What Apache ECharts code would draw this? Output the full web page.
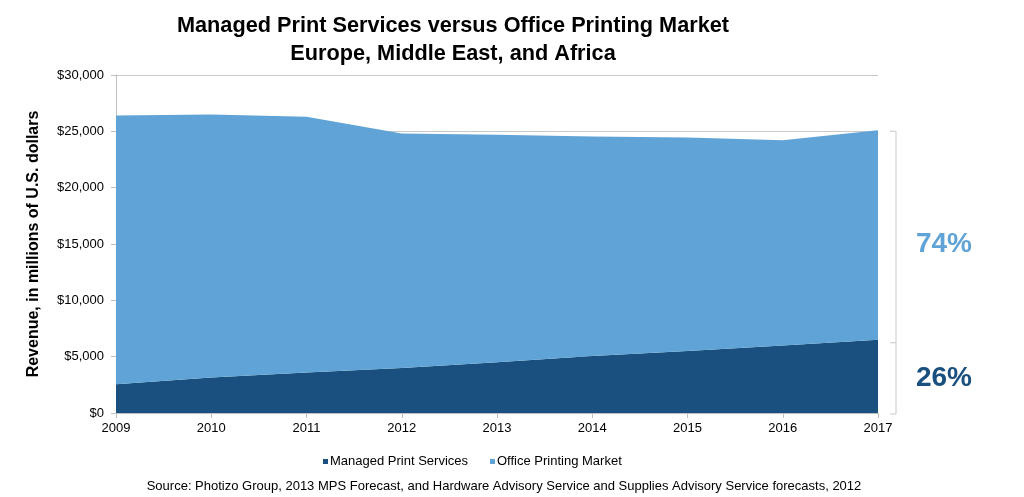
<!DOCTYPE html>
<html>
<head>
<meta charset="utf-8">
<script src="https://cdn.jsdelivr.net/npm/echarts@6/dist/echarts.min.js"></script>
<style>
html,body{margin:0;padding:0;background:#fff;}
#chart{width:1024px;height:497px;}
</style>
</head>
<body>
<div id="chart"></div>
<script>
var years = ['2009','2010','2011','2012','2013','2014','2015','2016','2017'];
var managedPrint = [2550, 3150, 3600, 4000, 4500, 5050, 5500, 6000, 6500];
var totalMarket = [26400, 26500, 26300, 24800, 24700, 24550, 24450, 24200, 25100];
var officePrinting = totalMarket.map(function (t, i) { return t - managedPrint[i]; });
var seriesNames = ['Managed Print Services', 'Office Printing Market'];
var titleLines = ['Managed Print Services versus Office Printing Market', 'Europe, Middle East, and Africa'];
var yAxisName = 'Revenue, in millions of U.S. dollars';
var sourceText = 'Source: Photizo Group, 2013 MPS Forecast, and Hardware Advisory Service and Supplies Advisory Service forecasts, 2012';

var darkBlue = '#19507f';
var lightBlue = '#60a3d7';
var font = '"Liberation Sans", Arial, Helvetica, sans-serif';

var chart = echarts.init(document.getElementById('chart'));
var option = {
  animation: false,
  backgroundColor: '#ffffff',
  title: [
    { text: titleLines[0], left: 448, top: 10, textAlign: 'center',
      textStyle: { fontFamily: font, fontSize: 21.7, fontWeight: 'bold', color: '#000' } },
    { text: titleLines[1], left: 448, top: 38, textAlign: 'center',
      textStyle: { fontFamily: font, fontSize: 21.7, fontWeight: 'bold', color: '#000' } },
    { text: sourceText, left: 499, top: 475, textAlign: 'center',
      textStyle: { fontFamily: font, fontSize: 13, fontWeight: 'normal', color: '#000' } }
  ],
  legend: {
    data: seriesNames,
    left: 318, top: 450,
    itemWidth: 5, itemHeight: 5, itemGap: 22,
    icon: 'rect',
    textStyle: { fontFamily: '"Liberation Sans Narrow", "Liberation Sans", Arial, sans-serif', fontSize: 13, color: '#000', padding: [0,0,0,-3] }
  },
  grid: { left: 116, right: 146, top: 75, bottom: 84 },
  xAxis: {
    type: 'category',
    data: years,
    boundaryGap: false,
    axisLine: { lineStyle: { color: '#bfbfbf', width: 1 } },
    axisTick: { show: true, alignWithLabel: true, length: 5, lineStyle: { color: '#bfbfbf' } },
    axisLabel: { fontFamily: font, fontSize: 13, color: '#000', margin: 9 },
    splitLine: { show: false }
  },
  yAxis: {
    type: 'value',
    min: 0, max: 30000, interval: 5000,
    name: yAxisName,
    nameLocation: 'middle',
    nameGap: 74,
    nameTextStyle: { fontFamily: font, fontSize: 16, fontWeight: 'bold', color: '#000' },
    axisLine: { show: true, lineStyle: { color: '#bfbfbf', width: 1 } },
    axisTick: { show: true, length: 5, lineStyle: { color: '#bfbfbf' } },
    axisLabel: {
      fontFamily: font, fontSize: 13, color: '#000', margin: 12,
      formatter: function (v) { return '$' + v.toLocaleString('en-US'); }
    },
    splitLine: { show: true, lineStyle: { color: '#c8c8c8', width: 1 } }
  },
  series: [
    { name: seriesNames[0], type: 'line', stack: 'total', data: managedPrint,
      symbol: 'none', lineStyle: { width: 0 }, itemStyle: { color: darkBlue },
      areaStyle: { color: darkBlue, opacity: 1 } },
    { name: seriesNames[1], type: 'line', stack: 'total', data: officePrinting,
      symbol: 'none', lineStyle: { width: 0 }, itemStyle: { color: lightBlue },
      areaStyle: { color: lightBlue, opacity: 1 } }
  ]
};
chart.setOption(option);

// Bracket with share labels for the final year
var last = years.length - 1;
var lastTotal = totalMarket[last];
var mpsShare = Math.round(managedPrint[last] / lastTotal * 100);
var shareLabels = [(100 - mpsShare) + '%', mpsShare + '%'];
var pTop = chart.convertToPixel({ gridIndex: 0 }, [last, lastTotal]);
var pMid = chart.convertToPixel({ gridIndex: 0 }, [last, managedPrint[last]]);
var pBot = chart.convertToPixel({ gridIndex: 0 }, [last, 0]);
var bx = pTop[0] + 18;
var tickLen = 6;
var bracketColor = '#c8c8c8';
chart.setOption({
  graphic: [
    { type: 'line', shape: { x1: bx, y1: pTop[1] + 1, x2: bx, y2: pBot[1] + 1 }, style: { stroke: bracketColor, lineWidth: 1 } },
    { type: 'line', shape: { x1: bx - tickLen, y1: pTop[1] + 1, x2: bx, y2: pTop[1] + 1 }, style: { stroke: bracketColor, lineWidth: 1 } },
    { type: 'line', shape: { x1: bx - tickLen, y1: pMid[1] + 3, x2: bx, y2: pMid[1] + 3 }, style: { stroke: bracketColor, lineWidth: 1 } },
    { type: 'line', shape: { x1: bx - tickLen, y1: pBot[1] + 1, x2: bx, y2: pBot[1] + 1 }, style: { stroke: bracketColor, lineWidth: 1 } },
    { type: 'text', x: bx + 48, y: (pTop[1] + pMid[1]) / 2 + 9,
      style: { text: shareLabels[0], fill: lightBlue, font: 'bold 28px ' + font, textAlign: 'center', textVerticalAlign: 'middle' } },
    { type: 'text', x: bx + 48, y: (pMid[1] + pBot[1]) / 2 + 2,
      style: { text: shareLabels[1], fill: darkBlue, font: 'bold 28px ' + font, textAlign: 'center', textVerticalAlign: 'middle' } }
  ]
});
</script>
</body>
</html>
